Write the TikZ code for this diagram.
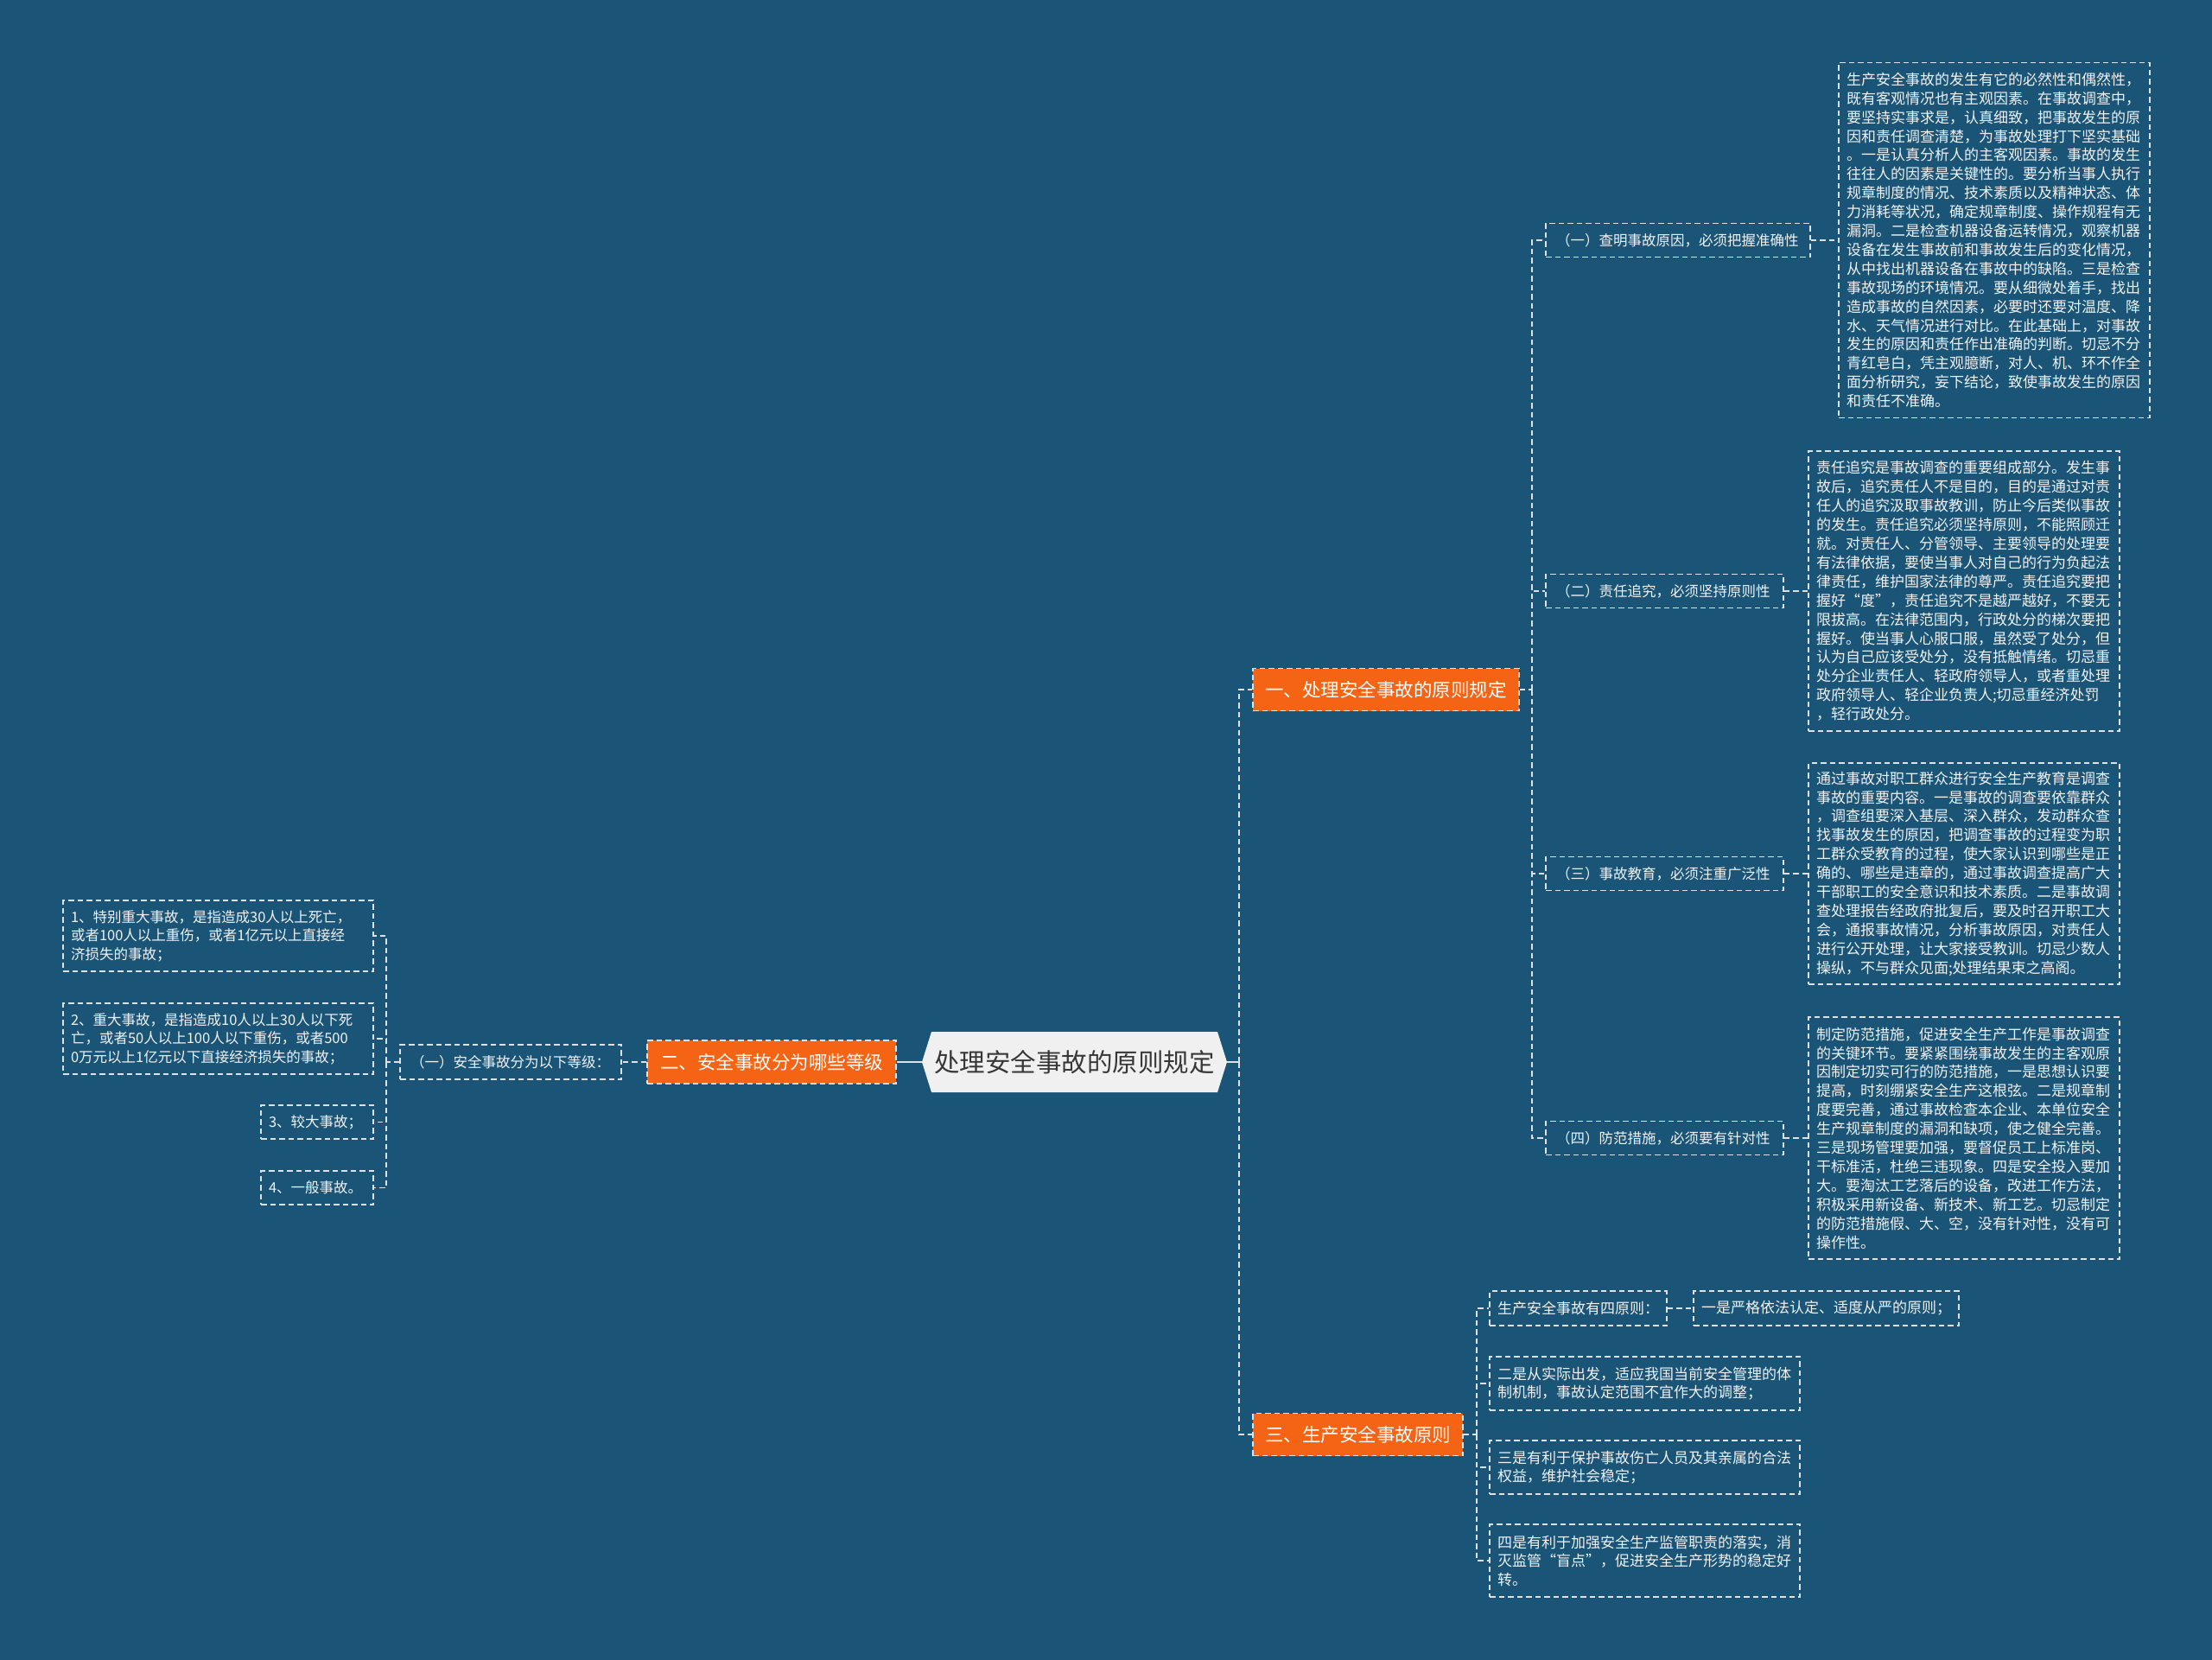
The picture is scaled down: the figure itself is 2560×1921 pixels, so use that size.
\documentclass[tikz,border=0pt]{standalone}
\usepackage{fontspec}
\newfontfamily\cjk{Noto Sans CJK SC}
\definecolor{bgC}{RGB}{26,84,118}
\definecolor{lineC}{RGB}{222,226,230}
\definecolor{txtC}{RGB}{240,242,244}
\definecolor{orgC}{RGB}{245,100,20}
\definecolor{centerC}{RGB}{240,240,240}
\definecolor{ctxtC}{RGB}{55,55,55}
\tikzset{
  dline/.style={draw=lineC, line width=1.6pt, dash pattern=on 6.5pt off 4pt},
  sline/.style={draw=lineC, line width=2pt},
  tbox/.style={dline, text=txtC, font=\cjk\fontsize{17}{21.9}\selectfont, align=left, inner xsep=9pt, inner ysep=0pt},
  lbox/.style={dline, text=txtC, font=\cjk\fontsize{16.5}{21.5}\selectfont, align=left, inner xsep=9pt, inner ysep=0pt},
  pbox/.style={dline, text=txtC, font=\cjk\fontsize{17}{21.5}\selectfont, align=left, inner xsep=9pt, inner ysep=0pt},
  subbox/.style={dline, text=txtC, font=\cjk\fontsize{16.5}{20}\selectfont, align=left, inner xsep=12pt, inner ysep=0pt},
  obox/.style={fill=orgC, dline, text=white, font=\cjk\fontsize{21.5}{26}\selectfont, inner sep=0pt},
}
\begin{document}
\begin{tikzpicture}[x=1pt,y=-1pt]
\useasboundingbox (0,0) rectangle (2560,1921);
\fill[bgC] (0,0) rectangle (2560,1921);

% center hexagon
\fill[centerC] (1078,1194) -- (1409,1194) -- (1420,1229) -- (1409,1264) -- (1078,1264) -- (1067,1229) -- cycle;
\node[minimum width=353pt, minimum height=70pt, inner sep=0pt, text=ctxtC, font=\cjk\fontsize{29.5}{34}\selectfont] (C) at (1243.5,1229) {处理安全事故的原则规定};

% main branches
\node[obox, minimum width=308pt, minimum height=49pt] (b1) at (1604,798) {一、处理安全事故的原则规定};
\node[obox, minimum width=288pt, minimum height=50pt] (b2) at (893,1229) {二、安全事故分为哪些等级};
\node[obox, minimum width=243pt, minimum height=49pt] (b3) at (1571.5,1660) {三、生产安全事故原则};

% branch 1 sub nodes
\node[subbox, text width=282pt, minimum height=39pt] (s1) at (1942,278) {（一）查明事故原因，必须把握准确性};
\node[subbox, text width=251pt, minimum height=39pt] (s2) at (1926.5,684) {（二）责任追究，必须坚持原则性};
\node[subbox, text width=251pt, minimum height=39pt] (s3) at (1926.5,1011) {（三）事故教育，必须注重广泛性};
\node[subbox, text width=251pt, minimum height=39pt] (s4) at (1926.5,1317) {（四）防范措施，必须要有针对性};

% branch 1 text boxes
\node[tbox, text width=342pt, minimum height=411pt] (tA) at (2308,278) {生产安全事故的发生有它的必然性和偶然性，\\既有客观情况也有主观因素。在事故调查中，\\要坚持实事求是，认真细致，把事故发生的原\\因和责任调查清楚，为事故处理打下坚实基础\\。一是认真分析人的主客观因素。事故的发生\\往往人的因素是关键性的。要分析当事人执行\\规章制度的情况、技术素质以及精神状态、体\\力消耗等状况，确定规章制度、操作规程有无\\漏洞。二是检查机器设备运转情况，观察机器\\设备在发生事故前和事故发生后的变化情况，\\从中找出机器设备在事故中的缺陷。三是检查\\事故现场的环境情况。要从细微处着手，找出\\造成事故的自然因素，必要时还要对温度、降\\水、天气情况进行对比。在此基础上，对事故\\发生的原因和责任作出准确的判断。切忌不分\\青红皂白，凭主观臆断，对人、机、环不作全\\面分析研究，妄下结论，致使事故发生的原因\\和责任不准确。};
\node[tbox, text width=342pt, minimum height=324pt] (tB) at (2273,684) {责任追究是事故调查的重要组成部分。发生事\\故后，追究责任人不是目的，目的是通过对责\\任人的追究汲取事故教训，防止今后类似事故\\的发生。责任追究必须坚持原则，不能照顾迁\\就。对责任人、分管领导、主要领导的处理要\\有法律依据，要使当事人对自己的行为负起法\\律责任，维护国家法律的尊严。责任追究要把\\握好“度”，责任追究不是越严越好，不要无\\限拔高。在法律范围内，行政处分的梯次要把\\握好。使当事人心服口服，虽然受了处分，但\\认为自己应该受处分，没有抵触情绪。切忌重\\处分企业责任人、轻政府领导人，或者重处理\\政府领导人、轻企业负责人;切忌重经济处罚\\，轻行政处分。};
\node[tbox, text width=342pt, minimum height=256pt] (tC) at (2273,1011) {通过事故对职工群众进行安全生产教育是调查\\事故的重要内容。一是事故的调查要依靠群众\\，调查组要深入基层、深入群众，发动群众查\\找事故发生的原因，把调查事故的过程变为职\\工群众受教育的过程，使大家认识到哪些是正\\确的、哪些是违章的，通过事故调查提高广大\\干部职工的安全意识和技术素质。二是事故调\\查处理报告经政府批复后，要及时召开职工大\\会，通报事故情况，分析事故原因，对责任人\\进行公开处理，让大家接受教训。切忌少数人\\操纵，不与群众见面;处理结果束之高阁。};
\node[tbox, text width=342pt, minimum height=280pt] (tD) at (2273,1317) {制定防范措施，促进安全生产工作是事故调查\\的关键环节。要紧紧围绕事故发生的主客观原\\因制定切实可行的防范措施，一是思想认识要\\提高，时刻绷紧安全生产这根弦。二是规章制\\度要完善，通过事故检查本企业、本单位安全\\生产规章制度的漏洞和缺项，使之健全完善。\\三是现场管理要加强，要督促员工上标准岗、\\干标准活，杜绝三违现象。四是安全投入要加\\大。要淘汰工艺落后的设备，改进工作方法，\\积极采用新设备、新技术、新工艺。切忌制定\\的防范措施假、大、空，没有针对性，没有可\\操作性。};

% branch 2 nodes
\node[subbox, text width=232pt, minimum height=40pt] (g1) at (591,1229) {（一）安全事故分为以下等级：};
\node[lbox, text width=341pt, minimum height=82pt] (l1) at (252.5,1083) {1、特别重大事故，是指造成30人以上死亡，\\或者100人以上重伤，或者1亿元以上直接经\\济损失的事故；};
\node[lbox, text width=341pt, minimum height=82pt] (l2) at (252.5,1202) {2、重大事故，是指造成10人以上30人以下死\\亡，或者50人以上100人以下重伤，或者500\\0万元以上1亿元以下直接经济损失的事故；};
\node[lbox, text width=112pt, minimum height=39pt] (l3) at (367,1298.5) {3、较大事故；};
\node[lbox, text width=112pt, minimum height=39pt] (l4) at (367,1374.5) {4、一般事故。};

% branch 3 nodes
\node[pbox, text width=187pt, minimum height=40pt] (p0) at (1826.5,1514) {生产安全事故有四原则：};
\node[pbox, text width=289pt, minimum height=40pt] (p1) at (2113.5,1514) {一是严格依法认定、适度从严的原则；};
\node[pbox, text width=341pt, minimum height=62pt] (p2) at (1903.5,1601) {二是从实际出发，适应我国当前安全管理的体\\制机制，事故认定范围不宜作大的调整；};
\node[pbox, text width=341pt, minimum height=62pt] (p3) at (1903.5,1698) {三是有利于保护事故伤亡人员及其亲属的合法\\权益，维护社会稳定；};
\node[pbox, text width=341pt, minimum height=84pt] (p4) at (1903.5,1806) {四是有利于加强安全生产监管职责的落实，消\\灭监管“盲点”，促进安全生产形势的稳定好\\转。};

% junction coordinates
\coordinate (vr) at (1434,1229);
\coordinate (v1) at (1773,798);
\coordinate (vl) at (447,1229);
\coordinate (v3) at (1709,1660);

% connectors
\draw[sline] (C.east) -- (vr);
\draw[dline] (vr) |- (b1.west);
\draw[dline] (vr) |- (b3.west);
\draw[sline] (C.west) -- (b2.east);
\draw[dline] (b2.west) -- (g1.east);

\draw[dline] (b1.east) -- (v1);
\draw[dline] (v1) |- (s1.west);
\draw[dline] (v1) |- (s2.west);
\draw[dline] (v1) |- (s3.west);
\draw[dline] (v1) |- (s4.west);
\draw[dline] (s1.east) -- (tA.west);
\draw[dline] (s2.east) -- (tB.west);
\draw[dline] (s3.east) -- (tC.west);
\draw[dline] (s4.east) -- (tD.west);

\draw[dline] (g1.west) -- (vl);
\draw[dline] (vl) |- (l1.east);
\draw[dline] (vl) |- (l2.east);
\draw[dline] (vl) |- (l3.east);
\draw[dline] (vl) |- (l4.east);

\draw[dline] (b3.east) -- (v3);
\draw[dline] (v3) |- (p0.west);
\draw[dline] (v3) |- (p2.west);
\draw[dline] (v3) |- (p3.west);
\draw[dline] (v3) |- (p4.west);
\draw[dline] (p0.east) -- (p1.west);
\end{tikzpicture}
\end{document}
